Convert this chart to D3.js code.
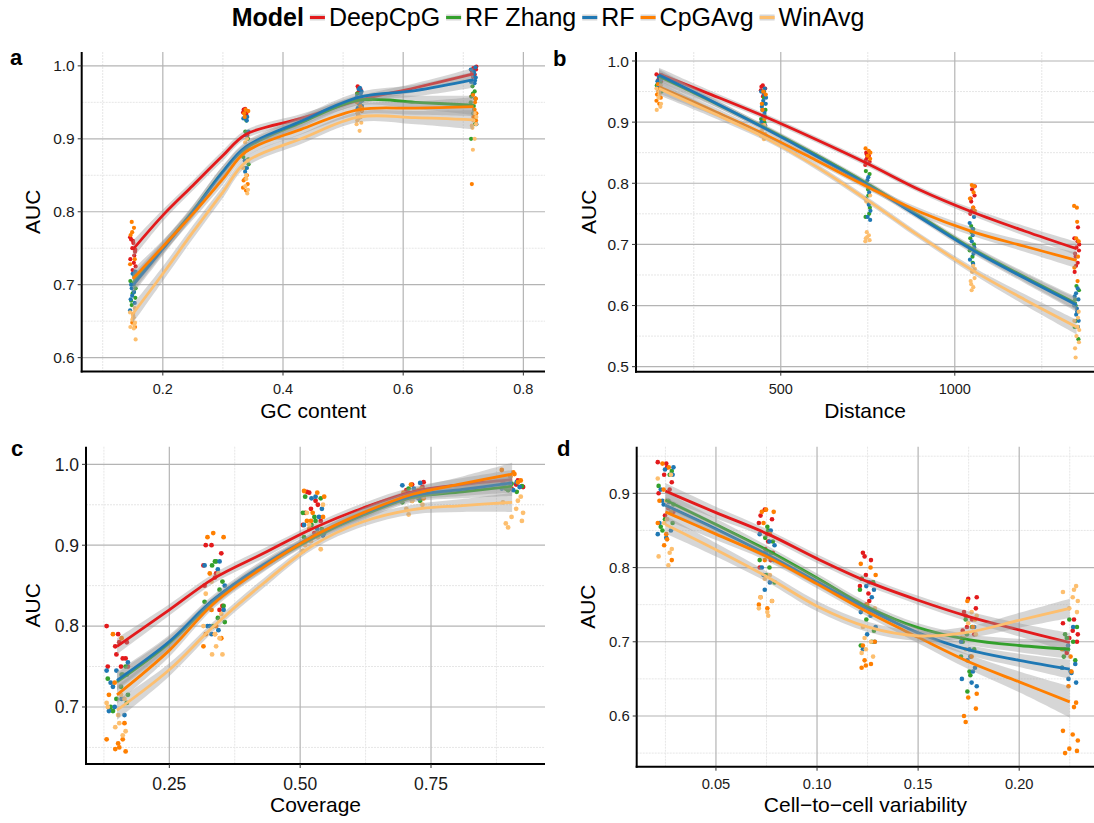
<!DOCTYPE html>
<html>
<head>
<meta charset="utf-8">
<script src="https://cdn.jsdelivr.net/npm/d3@7"></script>
<style>
  body { margin: 0; background: #fff; }
  svg { display: block; font-family: "Liberation Sans", Arial, Helvetica, sans-serif; }
</style>
</head>
<body>
<svg id="chart" width="1094" height="823"></svg>
<script>
// ---------- data ----------
const models = ["DeepCpG", "RF Zhang", "RF", "CpGAvg", "WinAvg"];

// a: GC content
const gcGroups = [0.15, 0.338, 0.527, 0.717];
const gcFitX = [0.15, 0.2, 0.25, 0.3, 0.338, 0.43, 0.527, 0.62, 0.717];
const gcFit = [
  [0.748, 0.795, 0.836, 0.877, 0.906, 0.928, 0.953, 0.970, 0.989],
  [0.702, 0.751, 0.801, 0.855, 0.887, 0.922, 0.953, 0.950, 0.946],
  [0.699, 0.749, 0.800, 0.855, 0.889, 0.924, 0.957, 0.966, 0.981],
  [0.708, 0.752, 0.797, 0.845, 0.882, 0.913, 0.940, 0.942, 0.944],
  [0.660, 0.715, 0.772, 0.827, 0.868, 0.900, 0.930, 0.929, 0.926]
];
const gcBand = [
  [0.012, 0.008, 0.007, 0.007, 0.006, 0.006, 0.006, 0.006, 0.008],
  [0.012, 0.009, 0.008, 0.008, 0.007, 0.007, 0.007, 0.009, 0.013],
  [0.012, 0.009, 0.008, 0.008, 0.007, 0.007, 0.007, 0.008, 0.011],
  [0.013, 0.009, 0.008, 0.008, 0.007, 0.007, 0.007, 0.009, 0.013],
  [0.013, 0.010, 0.009, 0.008, 0.007, 0.007, 0.007, 0.009, 0.013]
];
const gcAuc = [
  [[0.765, 0.76, 0.757, 0.75, 0.745, 0.74, 0.735, 0.73, 0.725, 0.72, 0.748, 0.762],
   [0.941, 0.94, 0.938, 0.936, 0.935, 0.933, 0.93, 0.908, 0.905],
   [0.972, 0.97, 0.968, 0.965, 0.962, 0.958, 0.955, 0.952, 0.95],
   [0.999, 0.997, 0.995, 0.993, 0.99, 0.988, 0.985, 0.958, 0.955]],
  [[0.715, 0.712, 0.705, 0.70, 0.695, 0.688, 0.682, 0.678, 0.672, 0.69],
   [0.93, 0.925, 0.91, 0.90, 0.885, 0.875, 0.87, 0.865, 0.86, 0.872],
   [0.962, 0.958, 0.955, 0.952, 0.95, 0.948, 0.945, 0.943],
   [0.972, 0.965, 0.962, 0.958, 0.955, 0.95, 0.945, 0.94, 0.935, 0.93, 0.92, 0.90]],
  [[0.718, 0.715, 0.708, 0.70, 0.695, 0.69, 0.685, 0.68, 0.675, 0.665],
   [0.93, 0.928, 0.925, 0.91, 0.905, 0.89, 0.885, 0.87, 0.86, 0.855],
   [0.97, 0.968, 0.965, 0.962, 0.958, 0.955, 0.952, 0.948, 0.945, 0.942],
   [0.998, 0.995, 0.992, 0.99, 0.987, 0.984, 0.98, 0.978, 0.976, 0.92]],
  [[0.786, 0.778, 0.772, 0.768, 0.735, 0.728, 0.66, 0.655, 0.648, 0.642],
   [0.94, 0.938, 0.935, 0.93, 0.85, 0.845, 0.843, 0.838, 0.833, 0.829],
   [0.95, 0.945, 0.942, 0.94, 0.938, 0.935, 0.932, 0.93],
   [0.96, 0.955, 0.95, 0.945, 0.94, 0.935, 0.93, 0.925, 0.838]],
  [[0.668, 0.662, 0.658, 0.655, 0.652, 0.648, 0.645, 0.642, 0.64, 0.625],
   [0.90, 0.895, 0.88, 0.87, 0.86, 0.85, 0.845, 0.835, 0.83, 0.825],
   [0.94, 0.935, 0.932, 0.93, 0.928, 0.925, 0.922, 0.92, 0.911],
   [0.935, 0.93, 0.925, 0.92, 0.918, 0.915, 0.90, 0.885]]
];

// b: Distance
const distGroups = [150, 450, 750, 1050, 1350];
const distFitX = [150, 300, 450, 600, 750, 900, 1050, 1200, 1350];
const distFit = [
  [0.979, 0.945, 0.910, 0.872, 0.832, 0.789, 0.753, 0.722, 0.693],
  [0.975, 0.934, 0.892, 0.847, 0.799, 0.746, 0.693, 0.647, 0.603],
  [0.977, 0.935, 0.891, 0.845, 0.797, 0.744, 0.691, 0.645, 0.601],
  [0.958, 0.920, 0.881, 0.838, 0.794, 0.753, 0.721, 0.697, 0.674],
  [0.955, 0.916, 0.876, 0.828, 0.772, 0.713, 0.658, 0.610, 0.565]
];
const distBand = [
  [0.010, 0.006, 0.005, 0.005, 0.005, 0.005, 0.006, 0.008, 0.011],
  [0.010, 0.006, 0.005, 0.005, 0.005, 0.005, 0.006, 0.008, 0.011],
  [0.010, 0.006, 0.005, 0.005, 0.005, 0.005, 0.006, 0.008, 0.011],
  [0.011, 0.007, 0.005, 0.005, 0.005, 0.006, 0.007, 0.009, 0.013],
  [0.011, 0.007, 0.005, 0.005, 0.005, 0.005, 0.006, 0.009, 0.012]
];
const distAuc = [
  [[0.978, 0.976, 0.973, 0.97, 0.967, 0.965],
   [0.96, 0.958, 0.955, 0.952, 0.95, 0.945, 0.942],
   [0.85, 0.847, 0.845, 0.842, 0.838, 0.835, 0.83],
   [0.795, 0.79, 0.78, 0.775, 0.77, 0.76, 0.755, 0.75],
   [0.728, 0.71, 0.705, 0.70, 0.695, 0.69, 0.685, 0.68, 0.67, 0.665, 0.655]],
  [[0.97, 0.965, 0.96, 0.955, 0.95, 0.948],
   [0.95, 0.94, 0.93, 0.92, 0.91, 0.905, 0.90],
   [0.82, 0.815, 0.80, 0.79, 0.78, 0.77, 0.76, 0.75, 0.745],
   [0.73, 0.725, 0.72, 0.71, 0.70, 0.69, 0.68, 0.67],
   [0.632, 0.625, 0.61, 0.60, 0.59, 0.575, 0.565, 0.545]],
  [[0.977, 0.974, 0.97, 0.967, 0.963, 0.96, 0.957, 0.955],
   [0.955, 0.95, 0.945, 0.94, 0.935, 0.93, 0.925, 0.92, 0.915, 0.91, 0.90, 0.895],
   [0.81, 0.805, 0.795, 0.785, 0.775, 0.765, 0.755, 0.745, 0.74],
   [0.745, 0.735, 0.725, 0.715, 0.705, 0.695, 0.685, 0.675, 0.668],
   [0.628, 0.62, 0.615, 0.61, 0.60, 0.595, 0.59, 0.585, 0.575, 0.565]],
  [[0.962, 0.955, 0.95, 0.945, 0.94, 0.935, 0.93],
   [0.95, 0.945, 0.93, 0.92, 0.905, 0.895, 0.885, 0.88],
   [0.857, 0.853, 0.85, 0.845, 0.84],
   [0.797, 0.795, 0.785, 0.775, 0.76, 0.755],
   [0.763, 0.76, 0.737, 0.71, 0.705, 0.68, 0.662, 0.64]],
  [[0.96, 0.955, 0.95, 0.945, 0.94, 0.93, 0.925, 0.92],
   [0.895, 0.89, 0.885, 0.88, 0.878, 0.875, 0.872],
   [0.78, 0.77, 0.72, 0.715, 0.712, 0.71, 0.707, 0.705],
   [0.665, 0.66, 0.655, 0.645, 0.64, 0.635, 0.63, 0.625],
   [0.59, 0.58, 0.575, 0.565, 0.56, 0.55, 0.54, 0.53, 0.515]]
];

// c: Coverage
const covGroups = [0.15, 0.335, 0.525, 0.715, 0.905];
const covFitX = [0.15, 0.25, 0.335, 0.43, 0.525, 0.62, 0.715, 0.81, 0.905];
const covFit = [
  [0.775, 0.820, 0.859, 0.890, 0.921, 0.946, 0.966, 0.975, 0.981],
  [0.731, 0.779, 0.831, 0.874, 0.909, 0.937, 0.959, 0.966, 0.973],
  [0.733, 0.781, 0.833, 0.876, 0.911, 0.939, 0.961, 0.969, 0.977],
  [0.715, 0.770, 0.828, 0.873, 0.911, 0.940, 0.963, 0.976, 0.988],
  [0.696, 0.746, 0.800, 0.853, 0.900, 0.929, 0.944, 0.949, 0.953]
];
const covBand = [
  [0.010, 0.007, 0.006, 0.006, 0.005, 0.006, 0.006, 0.008, 0.012],
  [0.011, 0.008, 0.006, 0.006, 0.005, 0.006, 0.006, 0.008, 0.012],
  [0.011, 0.008, 0.006, 0.006, 0.005, 0.006, 0.006, 0.008, 0.012],
  [0.011, 0.008, 0.006, 0.006, 0.005, 0.006, 0.007, 0.009, 0.014],
  [0.012, 0.008, 0.006, 0.006, 0.005, 0.006, 0.006, 0.008, 0.012]
];
const covAuc = [
  [[0.80, 0.79, 0.78, 0.775, 0.76, 0.76, 0.75, 0.75, 0.75, 0.765, 0.78],
   [0.90, 0.90, 0.89, 0.875, 0.86, 0.865, 0.83, 0.825, 0.82, 0.85],
   [0.966, 0.965, 0.95, 0.945, 0.94, 0.93, 0.925, 0.915, 0.955],
   [0.978, 0.975, 0.972, 0.968, 0.965, 0.962, 0.96, 0.958],
   [0.98, 0.978, 0.975, 0.972, 0.97]],
  [[0.75, 0.74, 0.735, 0.725, 0.715, 0.71, 0.705, 0.70, 0.695, 0.74],
   [0.88, 0.88, 0.875, 0.855, 0.845, 0.83, 0.81, 0.805, 0.80, 0.825],
   [0.96, 0.958, 0.94, 0.935, 0.93, 0.925, 0.92, 0.915, 0.91],
   [0.97, 0.966, 0.962, 0.958, 0.955, 0.953, 0.96],
   [0.976, 0.973, 0.97, 0.968, 0.966]],
  [[0.755, 0.745, 0.74, 0.73, 0.725, 0.71, 0.70, 0.695, 0.69, 0.745],
   [0.88, 0.875, 0.87, 0.85, 0.83, 0.82, 0.80, 0.80, 0.795, 0.79],
   [0.96, 0.958, 0.945, 0.935, 0.925, 0.92, 0.915, 0.91, 0.912],
   [0.977, 0.974, 0.97, 0.967, 0.964, 0.96, 0.958],
   [0.978, 0.976, 0.974, 0.972, 0.97, 0.968]],
  [[0.79, 0.785, 0.73, 0.715, 0.68, 0.66, 0.655, 0.65, 0.648, 0.645, 0.66],
   [0.915, 0.91, 0.91, 0.865, 0.835, 0.82, 0.79, 0.785, 0.775, 0.79, 0.80],
   [0.967, 0.965, 0.96, 0.94, 0.935, 0.93, 0.92, 0.915, 0.93],
   [0.975, 0.97, 0.968, 0.965, 0.96, 0.958, 0.955],
   [0.993, 0.99, 0.988, 0.985, 0.98, 0.978]],
  [[0.71, 0.705, 0.69, 0.68, 0.675, 0.67, 0.665, 0.70, 0.715],
   [0.865, 0.855, 0.84, 0.815, 0.80, 0.79, 0.775, 0.765, 0.765, 0.785],
   [0.95, 0.94, 0.925, 0.91, 0.905, 0.90, 0.895, 0.893],
   [0.965, 0.96, 0.955, 0.95, 0.945, 0.938],
   [0.96, 0.955, 0.953, 0.945, 0.94, 0.935, 0.93, 0.927, 0.922]]
];

// d: Cell-to-cell variability
const varGroups = [0.025, 0.075, 0.125, 0.175, 0.225];
const varFitX = [0.025, 0.05, 0.075, 0.10, 0.125, 0.15, 0.175, 0.20, 0.225];
const varFit = [
  [0.903, 0.874, 0.846, 0.812, 0.781, 0.756, 0.734, 0.716, 0.699],
  [0.891, 0.858, 0.824, 0.786, 0.747, 0.719, 0.703, 0.695, 0.690],
  [0.884, 0.852, 0.818, 0.781, 0.744, 0.712, 0.689, 0.675, 0.663],
  [0.875, 0.845, 0.815, 0.778, 0.740, 0.706, 0.673, 0.646, 0.619],
  [0.858, 0.824, 0.788, 0.748, 0.720, 0.708, 0.713, 0.729, 0.745]
];
const varBand = [
  [0.011, 0.008, 0.006, 0.006, 0.006, 0.006, 0.007, 0.009, 0.013],
  [0.011, 0.008, 0.006, 0.006, 0.006, 0.006, 0.007, 0.009, 0.013],
  [0.011, 0.008, 0.006, 0.006, 0.006, 0.006, 0.007, 0.009, 0.013],
  [0.011, 0.008, 0.006, 0.006, 0.006, 0.008, 0.010, 0.014, 0.021],
  [0.012, 0.009, 0.007, 0.007, 0.007, 0.007, 0.008, 0.010, 0.013]
];
const varAuc = [
  [[0.942, 0.94, 0.935, 0.925, 0.915, 0.905, 0.90, 0.88, 0.875, 0.87],
   [0.878, 0.87, 0.865, 0.86, 0.845, 0.835, 0.825, 0.82, 0.81, 0.80],
   [0.82, 0.815, 0.81, 0.79, 0.785, 0.78, 0.775, 0.765, 0.755, 0.75],
   [0.76, 0.758, 0.745, 0.74, 0.735, 0.73, 0.72, 0.715, 0.71],
   [0.73, 0.725, 0.715, 0.71, 0.705, 0.70, 0.69, 0.685]],
  [[0.93, 0.925, 0.91, 0.89, 0.885, 0.865, 0.86, 0.855, 0.85],
   [0.855, 0.85, 0.84, 0.835, 0.82, 0.81, 0.80, 0.78, 0.79],
   [0.785, 0.78, 0.77, 0.745, 0.74, 0.73, 0.715, 0.70, 0.695],
   [0.73, 0.72, 0.71, 0.70, 0.69, 0.68, 0.66, 0.655, 0.633],
   [0.73, 0.72, 0.71, 0.705, 0.70, 0.69, 0.68, 0.675, 0.665]],
  [[0.935, 0.932, 0.925, 0.905, 0.89, 0.888, 0.885, 0.86, 0.85, 0.845, 0.84],
   [0.85, 0.845, 0.835, 0.83, 0.82, 0.81, 0.80, 0.79, 0.78, 0.77],
   [0.78, 0.775, 0.77, 0.76, 0.74, 0.735, 0.72, 0.71, 0.70, 0.69],
   [0.72, 0.70, 0.69, 0.68, 0.675, 0.665, 0.66, 0.65, 0.645, 0.64],
   [0.72, 0.695, 0.69, 0.67, 0.665, 0.66, 0.658, 0.65, 0.645]],
  [[0.94, 0.935, 0.905, 0.89, 0.875, 0.86, 0.845, 0.838, 0.83, 0.81],
   [0.878, 0.875, 0.875, 0.86, 0.845, 0.81, 0.76, 0.755, 0.75, 0.745],
   [0.805, 0.80, 0.79, 0.75, 0.70, 0.695, 0.675, 0.67, 0.668, 0.665],
   [0.755, 0.73, 0.72, 0.705, 0.68, 0.63, 0.625, 0.61, 0.60, 0.592],
   [0.69, 0.68, 0.66, 0.64, 0.618, 0.612, 0.58, 0.575, 0.567, 0.556, 0.553, 0.55]],
  [[0.925, 0.92, 0.89, 0.865, 0.86, 0.825, 0.82, 0.815, 0.803],
   [0.79, 0.785, 0.76, 0.755, 0.745, 0.74, 0.735],
   [0.745, 0.72, 0.705, 0.70, 0.69, 0.685, 0.68],
   [0.74, 0.735, 0.725, 0.71, 0.705, 0.69],
   [0.775, 0.77, 0.767, 0.76, 0.755, 0.745, 0.74]]
];

// ---------- styling ----------
const colors = ["#E31A1C", "#33A02C", "#1F78B4", "#FF7F00", "#FDBF6F"];
const jitterPattern = [-0.9, 0.35, -0.2, 0.75, -0.55, 0.1, 0.95, -0.7, 0.5, -0.35, 0.2, -0.05, 0.65, -0.8, 0.4, -0.15, 0.85];
const fmt1 = d3.format(".1f"), fmt2 = d3.format(".2f"), fmt0 = d3.format("d");

const svg = d3.select("#chart");

const panels = [
  { letter: "a", lx: 10, ly: 65, left: 81.7, right: 545, top: 52, bottom: 371.5,
    xDom: [0.065, 0.836], yDom: [0.581, 1.019],
    xMajor: [0.2, 0.4, 0.6, 0.8], xMinor: [0.1, 0.3, 0.5, 0.7],
    yMajor: [0.6, 0.7, 0.8, 0.9, 1.0], yMinor: [0.65, 0.75, 0.85, 0.95],
    xFmt: fmt1, yFmt: fmt1, xFs: 14.5, yFs: 15.5, r: 2.1,
    xTitle: "GC content", xLabY: 394, xTitleY: 418, yTitleX: 32,
    groups: gcGroups, fitX: gcFitX, fit: gcFit, band: gcBand, auc: gcAuc, jitter: 0.005 },
  { letter: "b", lx: 553, ly: 66, left: 636, right: 1094, top: 52, bottom: 371.7,
    xDom: [84, 1400], yDom: [0.4918, 1.0147],
    xMajor: [500, 1000], xMinor: [250, 750, 1250],
    yMajor: [0.5, 0.6, 0.7, 0.8, 0.9, 1.0], yMinor: [0.55, 0.65, 0.75, 0.85, 0.95],
    xFmt: fmt0, yFmt: fmt1, xFs: 14.5, yFs: 15.5, r: 2.1,
    xTitle: "Distance", xLabY: 394, xTitleY: 418, yTitleX: 588,
    groups: distGroups, fitX: distFitX, fit: distFit, band: distBand, auc: distAuc, jitter: 8 },
  { letter: "c", lx: 11, ly: 456, left: 86, right: 545, top: 446.7, bottom: 764,
    xDom: [0.0908, 0.9678], yDom: [0.6295, 1.0218],
    xMajor: [0.25, 0.5, 0.75], xMinor: [0.125, 0.375, 0.625, 0.875],
    yMajor: [0.7, 0.8, 0.9, 1.0], yMinor: [0.65, 0.75, 0.85, 0.95],
    xFmt: fmt2, yFmt: fmt1, xFs: 17.5, yFs: 17.5, r: 2.4,
    xTitle: "Coverage", xLabY: 789.5, xTitleY: 812, yTitleX: 32,
    groups: covGroups, fitX: covFitX, fit: covFit, band: covBand, auc: covAuc, jitter: 0.022 },
  { letter: "d", lx: 557, ly: 456, left: 636.7, right: 1094, top: 446.7, bottom: 766.7,
    xDom: [0.0108, 0.237], yDom: [0.5317, 0.9628],
    xMajor: [0.05, 0.10, 0.15, 0.20], xMinor: [0.025, 0.075, 0.125, 0.175, 0.225],
    yMajor: [0.6, 0.7, 0.8, 0.9], yMinor: [0.55, 0.65, 0.75, 0.85, 0.95],
    xFmt: fmt2, yFmt: fmt1, xFs: 14.7, yFs: 14.9, r: 2.3,
    xTitle: "Cell\u2212to\u2212cell variability", xLabY: 789, xTitleY: 812, yTitleX: 587,
    groups: varGroups, fitX: varFitX, fit: varFit, band: varBand, auc: varAuc, jitter: 0.0042 }
];

function drawPanel(p) {
  const x = d3.scaleLinear().domain(p.xDom).range([p.left, p.right]);
  const y = d3.scaleLinear().domain(p.yDom).range([p.bottom, p.top]);
  const g = svg.append("g");

  // grid: faint minor lines, then major lines
  g.append("g").selectAll("line").data(p.xMinor).join("line")
    .attr("x1", d => x(d)).attr("x2", d => x(d)).attr("y1", p.top).attr("y2", p.bottom)
    .attr("stroke", "#e6e6e6").attr("stroke-width", 1).attr("stroke-dasharray", "2,1");
  g.append("g").selectAll("line").data(p.yMinor).join("line")
    .attr("x1", p.left).attr("x2", p.right).attr("y1", d => y(d)).attr("y2", d => y(d))
    .attr("stroke", "#e6e6e6").attr("stroke-width", 1).attr("stroke-dasharray", "2,1");
  g.append("g").selectAll("line").data(p.xMajor).join("line")
    .attr("x1", d => x(d)).attr("x2", d => x(d)).attr("y1", p.top).attr("y2", p.bottom)
    .attr("stroke", "#b4b4b4").attr("stroke-width", 1.2);
  g.append("g").selectAll("line").data(p.yMajor).join("line")
    .attr("x1", p.left).attr("x2", p.right).attr("y1", d => y(d)).attr("y2", d => y(d))
    .attr("stroke", "#b4b4b4").attr("stroke-width", 1.2);

  // jittered points per model and group
  const pts = [];
  p.auc.forEach((byGroup, m) => {
    byGroup.forEach((vals, gi) => {
      vals.forEach((v, i) => {
        const j = jitterPattern[(i * 5 + m * 3 + gi * 2) % jitterPattern.length];
        pts.push({ m, x: p.groups[gi] + j * p.jitter, v });
      });
    });
  });
  g.append("g").selectAll("circle").data(pts).join("circle")
    .attr("cx", d => x(d.x)).attr("cy", d => y(d.v)).attr("r", p.r)
    .attr("fill", d => colors[d.m]);

  // smooth fits with confidence ribbons
  const curve = d3.curveCatmullRom.alpha(0.5);
  const area = d3.area().curve(curve)
    .x(d => x(d.x)).y0(d => y(d.v - d.se)).y1(d => y(d.v + d.se));
  const line = d3.line().curve(curve).x(d => x(d.x)).y(d => y(d.v));
  models.forEach((name, m) => {
    const series = p.fitX.map((xv, i) => ({ x: xv, v: p.fit[m][i], se: p.band[m][i] }));
    g.append("path").datum(series).attr("d", area)
      .attr("fill", "#999999").attr("fill-opacity", 0.4);
    g.append("path").datum(series).attr("d", line)
      .attr("fill", "none").attr("stroke", colors[m]).attr("stroke-width", 2.8);
  });

  // axes
  g.append("line").attr("x1", p.left).attr("x2", p.left).attr("y1", p.top).attr("y2", p.bottom + 1)
    .attr("stroke", "#000").attr("stroke-width", 2);
  g.append("line").attr("x1", p.left - 1).attr("x2", p.right).attr("y1", p.bottom).attr("y2", p.bottom)
    .attr("stroke", "#000").attr("stroke-width", 2);

  g.append("g").selectAll("line").data(p.yMajor).join("line")
    .attr("x1", p.left - 4).attr("x2", p.left).attr("y1", d => y(d)).attr("y2", d => y(d))
    .attr("stroke", "#333").attr("stroke-width", 1);
  g.append("g").selectAll("line").data(p.xMajor).join("line")
    .attr("x1", d => x(d)).attr("x2", d => x(d)).attr("y1", p.bottom).attr("y2", p.bottom + 4)
    .attr("stroke", "#333").attr("stroke-width", 1);

  g.append("g").selectAll("text").data(p.yMajor).join("text")
    .attr("x", p.left - 7).attr("y", d => y(d)).attr("dy", "0.36em")
    .attr("text-anchor", "end").attr("font-size", p.yFs).attr("fill", "#1a1a1a")
    .text(d => p.yFmt(d));
  g.append("g").selectAll("text").data(p.xMajor).join("text")
    .attr("x", d => x(d)).attr("y", p.xLabY)
    .attr("text-anchor", "middle").attr("font-size", p.xFs).attr("fill", "#1a1a1a")
    .text(d => p.xFmt(d));

  g.append("text").attr("x", (p.left + p.right) / 2).attr("y", p.xTitleY)
    .attr("text-anchor", "middle").attr("font-size", 21).text(p.xTitle);
  g.append("text")
    .attr("transform", `translate(${p.yTitleX},${(p.top + p.bottom) / 2}) rotate(-90)`)
    .attr("dy", "0.36em").attr("text-anchor", "middle").attr("font-size", 21).text("AUC");
  g.append("text").attr("x", p.lx).attr("y", p.ly)
    .attr("font-size", 22).attr("font-weight", "bold").text(p.letter);
}

panels.forEach(drawPanel);

// legend across the top
const leg = svg.append("g").attr("font-size", 25);
let cx = 0;
const title = leg.append("text").attr("x", cx).attr("y", 26).attr("font-weight", "bold").text("Model");
cx += title.node().getComputedTextLength() + 6;
models.forEach((name, m) => {
  leg.append("rect").attr("x", cx).attr("y", 14.5).attr("width", 15).attr("height", 6)
    .attr("fill", "#999").attr("fill-opacity", 0.4);
  leg.append("line").attr("x1", cx).attr("x2", cx + 15).attr("y1", 17.5).attr("y2", 17.5)
    .attr("stroke", colors[m]).attr("stroke-width", 3);
  cx += 19;
  const t = leg.append("text").attr("x", cx).attr("y", 26).text(name);
  cx += t.node().getComputedTextLength() + 6;
});
cx -= 6;
leg.attr("transform", `translate(${548 - cx / 2},0)`);
</script>
</body>
</html>
